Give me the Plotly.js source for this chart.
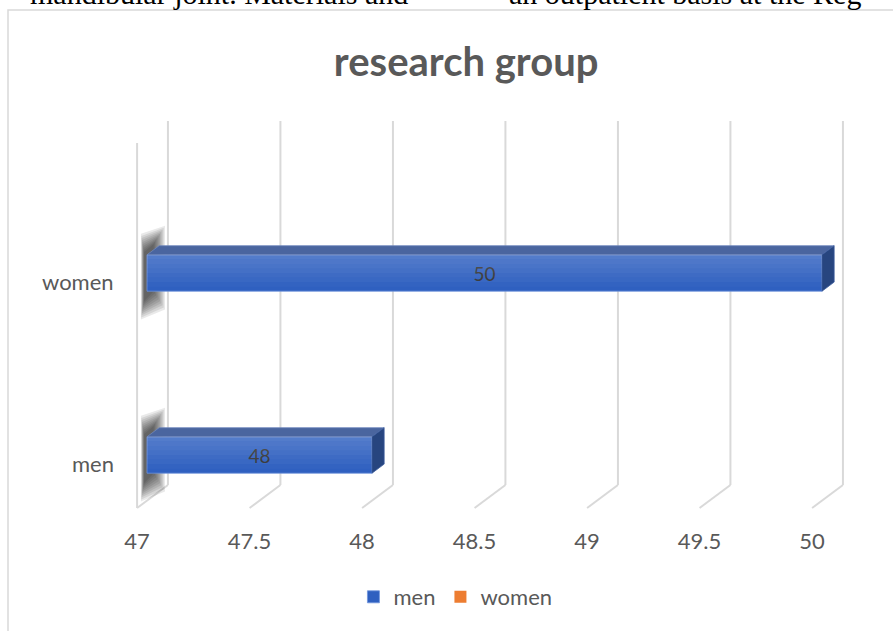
<!DOCTYPE html>
<html>
<head>
<meta charset="utf-8">
<script src="https://cdn.plot.ly/plotly-3.0.1.min.js"></script>
<style>html,body{margin:0;padding:0;background:#fff;}#chart{width:893px;height:631px;}</style>
</head>
<body>
<div id="chart"></div>
<script>
// ---- data ----
const categories = ['men', 'women'];
const menValues = [48, 50];
const womenValues = [null, null];
const tickValues = [47, 47.5, 48, 48.5, 49, 49.5, 50];
const tickLabels = ['47', '47.5', '48', '48.5', '49', '49.5', '50'];
const axisBase = 47;
const chartTitle = 'research group';
const pageTextLeft = 'mandibular joint. Materials and';
const pageTextRight = 'an outpatient basis at the Reg';

// ---- layout constants (3D look) ----
const BAR_W = 0.2;          // bar thickness in category units
const DEPTH_X = 0.054;      // bar depth offset (x units)
const DEPTH_Y = 0.05;       // bar depth offset (y units)
const BACK_DX = 0.093;      // back wall offset relative to bars
const FRONT_DX = -0.044;    // front edge offset relative to bars
const GRID_TOP = 1.835, GRID_BACK_BOTTOM = -0.165, FRONT_BOTTOM = -0.291, WALL_FRONT_TOP = 1.714;
const GRID_COLOR = '#d9d9d9';
const TEXT_COLOR = '#595959';
const FONT = 'Lato, "Open Sans", sans-serif';

const yIdx = categories.map((c, i) => i);

const shapes = [];
// chart frame
shapes.push({type: 'rect', xref: 'paper', yref: 'paper', x0: 8/893, x1: 1.05, y0: -0.05, y1: 1 - 10/631,
  line: {color: GRID_COLOR, width: 1.5}, fillcolor: 'rgba(0,0,0,0)', layer: 'below'});
// back gridlines + floor diagonals
tickValues.forEach(t => {
  shapes.push({type: 'line', xref: 'x', yref: 'y', x0: t + BACK_DX, x1: t + BACK_DX, y0: GRID_BACK_BOTTOM, y1: GRID_TOP,
    line: {color: GRID_COLOR, width: 2}, layer: 'below'});
  shapes.push({type: 'line', xref: 'x', yref: 'y', x0: t + BACK_DX, x1: t + FRONT_DX, y0: GRID_BACK_BOTTOM, y1: FRONT_BOTTOM,
    line: {color: GRID_COLOR, width: 2}, layer: 'below'});
});
// left wall front edge
shapes.push({type: 'line', xref: 'x', yref: 'y', x0: axisBase + FRONT_DX, x1: axisBase + FRONT_DX, y0: FRONT_BOTTOM, y1: WALL_FRONT_TOP,
  line: {color: GRID_COLOR, width: 2}, layer: 'below'});

// soft shadows on the left wall, top and side faces of bars, front-face shading
const SHADOW_LAYERS = 10;
yIdx.forEach((y, i) => {
  const v = menValues[i];
  for (let k = 0; k < SHADOW_LAYERS; k++) {
    const f = k / (SHADOW_LAYERS - 1);           // 0 = outer, 1 = inner
    const xl = axisBase - 0.027 + 0.014 * f;
    const xr = axisBase + 0.08 - 0.05 * f;
    const h = 0.225 - 0.1 * f;
    const skew = 0.035;
    shapes.push({type: 'path', xref: 'x', yref: 'y', layer: 'below',
      path: `M${xl},${y - h - 0.03} L${xl},${y + h - 0.01} L${xr},${y + h + skew} L${xr},${y - h + skew - 0.01} Z`,
      fillcolor: '#000', opacity: 0.085, line: {width: 0}});
  }
  const t = y + BAR_W / 2, b = y - BAR_W / 2;
  shapes.push({type: 'path', xref: 'x', yref: 'y', layer: 'above',
    path: `M${axisBase},${t} L${axisBase + DEPTH_X},${t + DEPTH_Y} L${v + DEPTH_X},${t + DEPTH_Y} L${v},${t} Z`,
    fillcolor: '#4a659f', line: {color: '#6d86bd', width: 0.8}});
  shapes.push({type: 'path', xref: 'x', yref: 'y', layer: 'above',
    path: `M${v},${t} L${v + DEPTH_X},${t + DEPTH_Y} L${v + DEPTH_X},${b + DEPTH_Y} L${v},${b} Z`,
    fillcolor: '#27457f', line: {color: '#3a5a9c', width: 0.8}});
  // vertical gradient on front face: white bands increasing toward the top
  const BANDS = 8;
  for (let k = 0; k < BANDS; k++) {
    shapes.push({type: 'rect', xref: 'x', yref: 'y', layer: 'above',
      x0: axisBase, x1: v, y0: b + BAR_W * k / BANDS, y1: b + BAR_W * (k + 1) / BANDS,
      fillcolor: '#fff', opacity: 0.025 * k, line: {width: 0}});
  }
});

const annotations = [];
categories.forEach((c, i) => {
  annotations.push({text: c, xref: 'paper', yref: 'y', x: 116/893, y: yIdx[i], xanchor: 'right', yanchor: 'middle',
    yshift: -8, showarrow: false, font: {family: FONT, size: 22, color: TEXT_COLOR}});
});
annotations.push({text: pageTextLeft, xref: 'paper', yref: 'paper', x: 410/893, y: 1.011, xanchor: 'right', yanchor: 'middle',
  showarrow: false, font: {family: '"Liberation Serif", serif', size: 30, color: '#000'}});
annotations.push({text: pageTextRight, xref: 'paper', yref: 'paper', x: 507/893, y: 1.011, xanchor: 'left', yanchor: 'middle',
  showarrow: false, font: {family: '"Liberation Serif", serif', size: 30, color: '#000'}});

const data = [
  {type: 'bar', orientation: 'h', name: 'men', y: yIdx, x: menValues.map(v => v - axisBase), base: axisBase,
    width: BAR_W, marker: {color: '#2f60c0', line: {color: '#6f93dc', width: 0.8}},
    text: menValues.map(String), textposition: 'inside', insidetextanchor: 'middle', constraintext: 'none',
    textfont: {family: FONT, size: 19, color: '#333333'}, hoverinfo: 'name+text'},
  {type: 'bar', orientation: 'h', name: 'women', y: yIdx, x: womenValues, base: axisBase,
    marker: {color: '#ed7d31'}}
];

const layout = {
  width: 893, height: 631,
  margin: {l: 0, r: 0, t: 0, b: 0},
  paper_bgcolor: '#fff', plot_bgcolor: 'rgba(0,0,0,0)',
  font: {family: FONT, color: TEXT_COLOR},
  title: {text: '<b>' + chartTitle + '</b>', x: 0.522, xanchor: 'center', y: 1 - 62/631, yanchor: 'middle',
    font: {family: FONT, size: 40, color: TEXT_COLOR}},
  barmode: 'overlay',
  showlegend: true,
  legend: {orientation: 'h', x: 0.51, xanchor: 'center', y: 1 - 597/631, yanchor: 'middle',
    font: {family: FONT, size: 22, color: TEXT_COLOR}, itemwidth: 30},
  xaxis: {domain: [102/893, 867/893], range: [46.8, 50.2], tickvals: tickValues, ticktext: tickLabels,
    showgrid: false, zeroline: false, showline: false, ticks: '', anchor: 'free', position: 1 - 526/631,
    ticklabelshift: -10, tickfont: {family: FONT, size: 22, color: TEXT_COLOR}, fixedrange: true},
  yaxis: {domain: [1 - 600.6/631, 1 - 91/631], range: [-0.8, 2.0], showgrid: false, zeroline: false,
    showticklabels: false, showline: false, ticks: '', fixedrange: true},
  shapes: shapes,
  annotations: annotations
};

Plotly.newPlot('chart', data, layout, {displayModeBar: false, staticPlot: true});
</script>
</body>
</html>
